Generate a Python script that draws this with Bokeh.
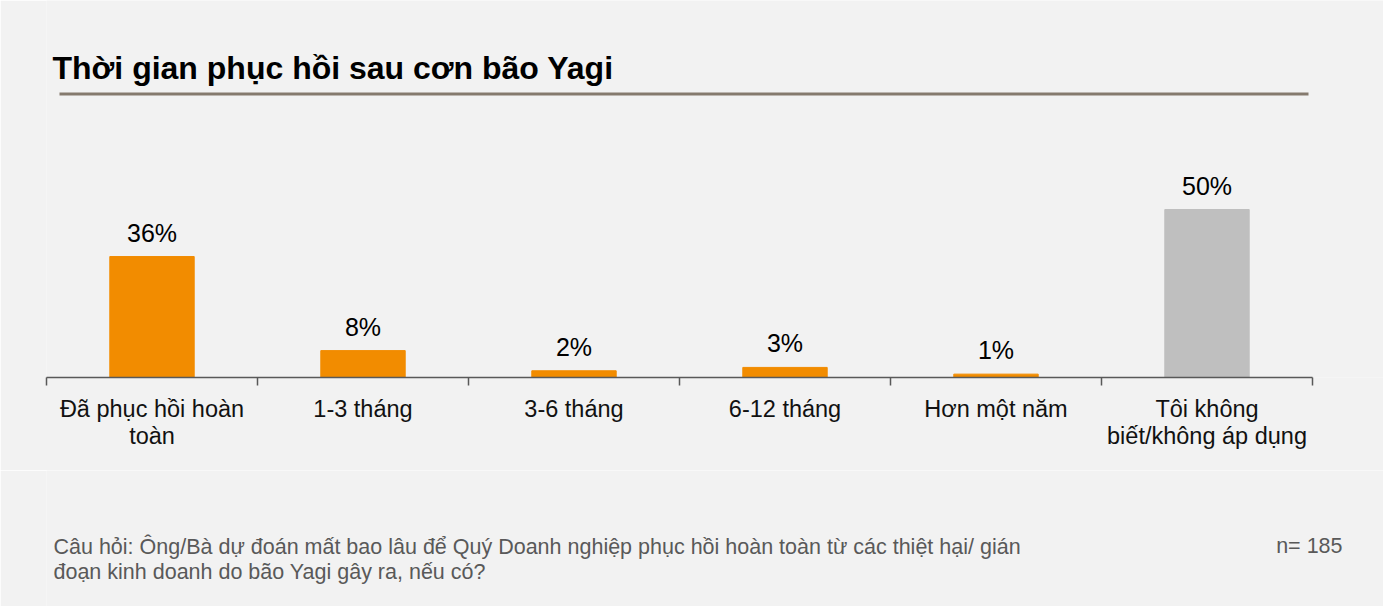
from bokeh.plotting import figure
from bokeh.layouts import column
from bokeh.models import Range1d, FixedTicker, ColumnDataSource
from bokeh.core.properties import value
from bokeh.embed import file_html
from bokeh.resources import INLINE

# ---- data ----
categories = ["Đã phục hồi hoàn\ntoàn", "1-3 tháng", "3-6 tháng", "6-12 tháng",
              "Hơn một năm", "Tôi không\nbiết/không áp dụng"]
values = [36, 8, 2, 3, 1, 50]
bar_colors = ["#F28C00", "#F28C00", "#F28C00", "#F28C00", "#F28C00", "#BFBFBF"]
pct_labels = [f"{v}%" for v in values]
title_text = "Thời gian phục hồi sau cơn bão Yagi"
note_line1 = "Câu hỏi: Ông/Bà dự đoán mất bao lâu để Quý Doanh nghiệp phục hồi hoàn toàn từ các thiệt hại/ gián"
note_line2 = "đoạn kinh doanh do bão Yagi gây ra, nếu có?"
n_text = "n= 185"

FONT = "Liberation Sans"
BG = "#F2F2F2"

# ---- geometry ----
W = 1383
H_MAIN = 470
H_NOTES = 136
LEFT = 46
AXIS_RIGHT = 1312               # pixel column where the category axis ends
AXIS_Y = 377                    # pixel row of the category axis
BOTTOM = H_MAIN - AXIS_Y
N = len(categories)
PX_PER_CAT = (AXIS_RIGHT - LEFT) / N
X_END = (W - LEFT) / PX_PER_CAT  # frame runs to the right edge; axis is bounded to the categories
PX_PER_PCT = 3.36
Y_END = AXIS_Y / PX_PER_PCT


def fx(px):
    return (px - LEFT) / PX_PER_CAT


def fy(py):
    return (AXIS_Y - py) / PX_PER_PCT


xs = [i + 0.5 for i in range(N)]
src = ColumnDataSource(dict(
    x=xs, top=values, color=bar_colors, pct=pct_labels,
    pct_y=[v + 24 / PX_PER_PCT for v in values],
))

p = figure(width=W, height=H_MAIN, x_range=Range1d(0, X_END), y_range=Range1d(0, Y_END),
           output_backend="svg", toolbar_location=None,
           min_border_left=LEFT, min_border_right=0, min_border_top=0,
           min_border_bottom=BOTTOM,
           background_fill_color=BG, border_fill_color=BG,
           outline_line_color=None)
p.grid.visible = False
p.yaxis.visible = False

ax = p.xaxis[0]
ax.bounds = (0, N)
ax.ticker = FixedTicker(ticks=xs, minor_ticks=list(range(N + 1)))
ax.major_label_overrides = {x: c for x, c in zip(xs, categories)}
ax.major_label_text_font = FONT
ax.major_label_text_font_size = "23.5px"
ax.major_label_text_color = "#111111"
ax.major_label_text_line_height = 1.05
ax.major_label_standoff = 10
ax.major_tick_line_color = None
ax.major_tick_in = 0
ax.major_tick_out = 0
ax.minor_tick_in = 0
ax.minor_tick_out = 8
ax.minor_tick_line_color = "#595959"
ax.minor_tick_line_width = 1.5
ax.axis_line_color = "#595959"
ax.axis_line_width = 1.5

p.vbar(x="x", top="top", width=0.4, color="color", source=src)

p.text(x="x", y="pct_y", text="pct", source=src, text_align="center",
       text_baseline="alphabetic", text_font=value(FONT), text_font_size="25px",
       text_color="#000000")

# title + rule
p.text(x=[fx(52)], y=[fy(67)], text=[title_text], text_font=value(FONT),
       text_font_size="32px", text_font_style="bold", text_color="#000000",
       text_baseline="alphabetic")
p.segment(x0=[fx(59)], y0=[fy(93.5)], x1=[fx(1308)], y1=[fy(93.5)],
          line_width=3, line_color="#857A6E")

# ---- notes strip (same x mapping as the chart, y in page pixels downward) ----
q = figure(width=W, height=H_NOTES, x_range=Range1d(0, X_END),
           y_range=Range1d(H_MAIN + H_NOTES, H_MAIN),
           output_backend="svg", toolbar_location=None,
           min_border_left=LEFT, min_border_right=0, min_border_top=0,
           min_border_bottom=0, background_fill_color=BG, border_fill_color=BG,
           outline_line_color=None)
q.axis.visible = False
q.grid.visible = False
q.text(x=[fx(53), fx(53)], y=[546, 571], text=[note_line1, note_line2],
       text_font=value(FONT), text_font_size="21.5px", text_color="#595959",
       text_baseline="alphabetic")
q.text(x=[fx(1342)], y=[545], text=[n_text], text_font=value(FONT),
       text_font_size="21.5px", text_color="#595959", text_baseline="alphabetic",
       text_align="right")

layout = column(p, q, spacing=0)
open("out.html", "w").write(file_html(layout, INLINE))
